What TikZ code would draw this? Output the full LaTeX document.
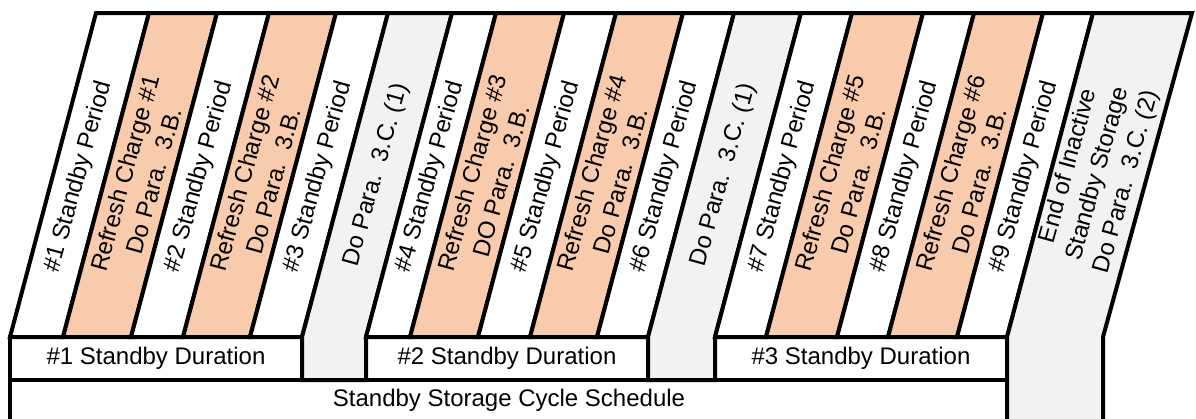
\documentclass[tikz,border=0pt]{standalone}
\usepackage{fontspec}
\setmainfont{Liberation Sans}
\definecolor{peach}{HTML}{F8CBAD}
\definecolor{lightgrey}{HTML}{F2F2F2}
\tikzset{
  edge/.style={draw=black, line width=4pt, line join=miter},
  wstripe/.style={edge, fill=white},
  ostripe/.style={edge, fill=peach},
  gstripe/.style={edge, fill=lightgrey},
  lab/.style={rotate=74.5, align=center, inner sep=0pt, font=\fontsize{24}{30}\selectfont},
  flat/.style={inner sep=0pt, font=\fontsize{24}{30}\selectfont},
}
\begin{document}
\begin{tikzpicture}[x=1pt, y=-1pt]
\useasboundingbox (0,0) rectangle (1196,418);
\clip (0,0) rectangle (1196,418);
% bottom schedule box
\draw[edge, fill=white] (10,430) -- (10,380) -- (1007,380) -- (1007,430);
% duration boxes
\draw[edge, fill=white] (10,337) rectangle (302,380);
\draw[edge, fill=white] (366,337) rectangle (648,380);
\draw[edge, fill=white] (715,337) rectangle (1007,380);
% stripes (bottom x at y=337, top = bottom + 86 at y=13)
\draw[wstripe] (10,337) -- (96,13) -- (149,13) -- (63,337) -- cycle;
\draw[ostripe] (63,337) -- (149,13) -- (217,13) -- (131,337) -- cycle;
\draw[wstripe] (131,337) -- (217,13) -- (269,13) -- (183,337) -- cycle;
\draw[ostripe] (183,337) -- (269,13) -- (336,13) -- (250,337) -- cycle;
\draw[wstripe] (250,337) -- (336,13) -- (388,13) -- (302,337) -- cycle;
\draw[gstripe] (302,380) -- (302,337) -- (388,13) -- (452,13) -- (366,337) -- (366,380) -- cycle;
\draw[wstripe] (366,337) -- (452,13) -- (496,13) -- (410,337) -- cycle;
\draw[ostripe] (410,337) -- (496,13) -- (564,13) -- (478,337) -- cycle;
\draw[wstripe] (478,337) -- (564,13) -- (616,13) -- (530,337) -- cycle;
\draw[ostripe] (530,337) -- (616,13) -- (683,13) -- (597,337) -- cycle;
\draw[wstripe] (597,337) -- (683,13) -- (734,13) -- (648,337) -- cycle;
\draw[gstripe] (648,380) -- (648,337) -- (734,13) -- (801,13) -- (715,337) -- (715,380) -- cycle;
\draw[wstripe] (715,337) -- (801,13) -- (852,13) -- (766,337) -- cycle;
\draw[ostripe] (766,337) -- (852,13) -- (923,13) -- (837,337) -- cycle;
\draw[wstripe] (837,337) -- (923,13) -- (974,13) -- (888,337) -- cycle;
\draw[ostripe] (888,337) -- (974,13) -- (1043,13) -- (957,337) -- cycle;
\draw[wstripe] (957,337) -- (1043,13) -- (1093,13) -- (1007,337) -- cycle;
\draw[gstripe] (1007,430) -- (1007,337) -- (1093,13) -- (1192,13) -- (1103,337) -- (1103,430);
% stripe labels
\node[lab] (s1) at (78.8,177) {\#1 Standby Period};
\node[lab] (r1) at (139.3,177) {Refresh Charge \#1\\Do Para.\ \ 3.B.};
\node[lab] (s2) at (199.3,177) {\#2 Standby Period};
\node[lab] (r2) at (258.8,177) {Refresh Charge \#2\\Do Para.\ \ 3.B.};
\node[lab] (s3) at (318.3,177) {\#3 Standby Period};
\node[lab] (g1) at (376.3,175) {Do Para.\ \ 3.C. (1)};
\node[lab] (s4) at (430.3,177) {\#4 Standby Period};
\node[lab] (r3) at (486.3,177) {Refresh Charge \#3\\DO Para.\ \ 3.B.};
\node[lab] (s5) at (546.3,177) {\#5 Standby Period};
\node[lab] (r4) at (605.8,177) {Refresh Charge \#4\\Do Para.\ \ 3.B.};
\node[lab] (s6) at (664.8,177) {\#6 Standby Period};
\node[lab] (g2) at (723.8,175) {Do Para.\ \ 3.C. (1)};
\node[lab] (s7) at (782.8,177) {\#7 Standby Period};
\node[lab] (r5) at (843.8,177) {Refresh Charge \#5\\Do Para.\ \ 3.B.};
\node[lab] (s8) at (904.8,177) {\#8 Standby Period};
\node[lab] (r6) at (964.8,177) {Refresh Charge \#6\\Do Para.\ \ 3.B.};
\node[lab] (s9) at (1024.3,177) {\#9 Standby Period};
\node[lab] (g3) at (1098,174) {End of Inactive\\Standby Storage\\Do Para.\ \ 3.C. (2)};
% duration labels
\node[flat] (d1) at (156,358) {\#1 Standby Duration};
\node[flat] (d2) at (507,358) {\#2 Standby Duration};
\node[flat] (d3) at (861,358) {\#3 Standby Duration};
\node[flat] (sc) at (509,400) {Standby Storage Cycle Schedule};
\end{tikzpicture}
\end{document}
